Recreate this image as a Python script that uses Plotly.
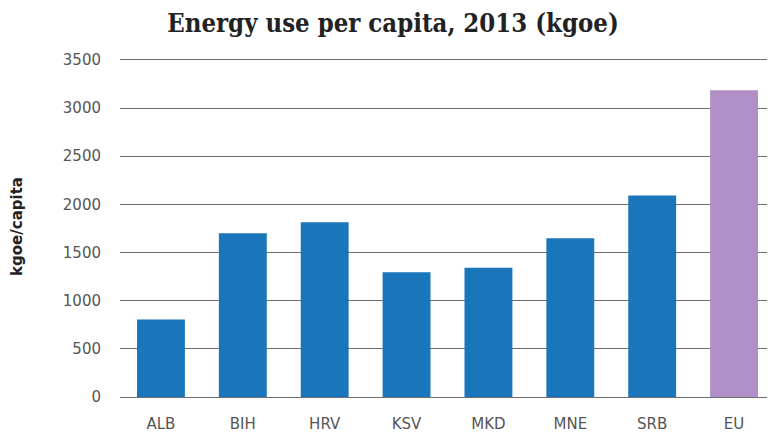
import plotly.graph_objects as go

categories = ["ALB", "BIH", "HRV", "KSV", "MKD", "MNE", "SRB", "EU"]
values = [805, 1700, 1815, 1295, 1342, 1647, 2091, 3185]
bar_colors = ["#1a75bb"] * 7 + ["#b08fc7"]
y_ticks = [0, 500, 1000, 1500, 2000, 2500, 3000, 3500]

fig = go.Figure(go.Bar(x=categories, y=values, marker=dict(color=bar_colors, line=dict(width=0))))

W, H = 767, 428
fig.update_layout(
    width=W, height=H,
    margin=dict(l=112, r=0, t=48, b=39, autoexpand=False),
    paper_bgcolor="white", plot_bgcolor="white",
    bargap=0.415,
    showlegend=False,
    title=dict(text="<b>Energy use per capita, 2013 (kgoe)</b>",
               font=dict(family="DejaVu Serif Condensed", size=25.5, color="#222"),
               x=385 / W, xanchor="center", y=1 - 15 / H, yanchor="middle", yref="container"),
    font=dict(family="DejaVu Sans", size=15, color="#555"),
)
fig.update_yaxes(range=[0, 3540], tickvals=y_ticks, ticktext=[str(v) for v in y_ticks],
                 showgrid=True, gridcolor="#6e6e6e", gridwidth=1,
                 zeroline=True, zerolinecolor="#6e6e6e", zerolinewidth=1,
                 ticks="", ticklabelstandoff=18, showline=False, automargin=False,
                 tickfont=dict(family="DejaVu Sans", size=15, color="#555"),
                 title=dict(text="<b>kgoe/capita</b>", font=dict(family="DejaVu Sans", size=15, color="#222"), standoff=36))
fig.update_xaxes(showgrid=False, ticks="", ticklabelstandoff=16, showline=False, automargin=False,
                 tickfont=dict(family="DejaVu Sans", size=15, color="#555"))

fig.write_html("out.html")
